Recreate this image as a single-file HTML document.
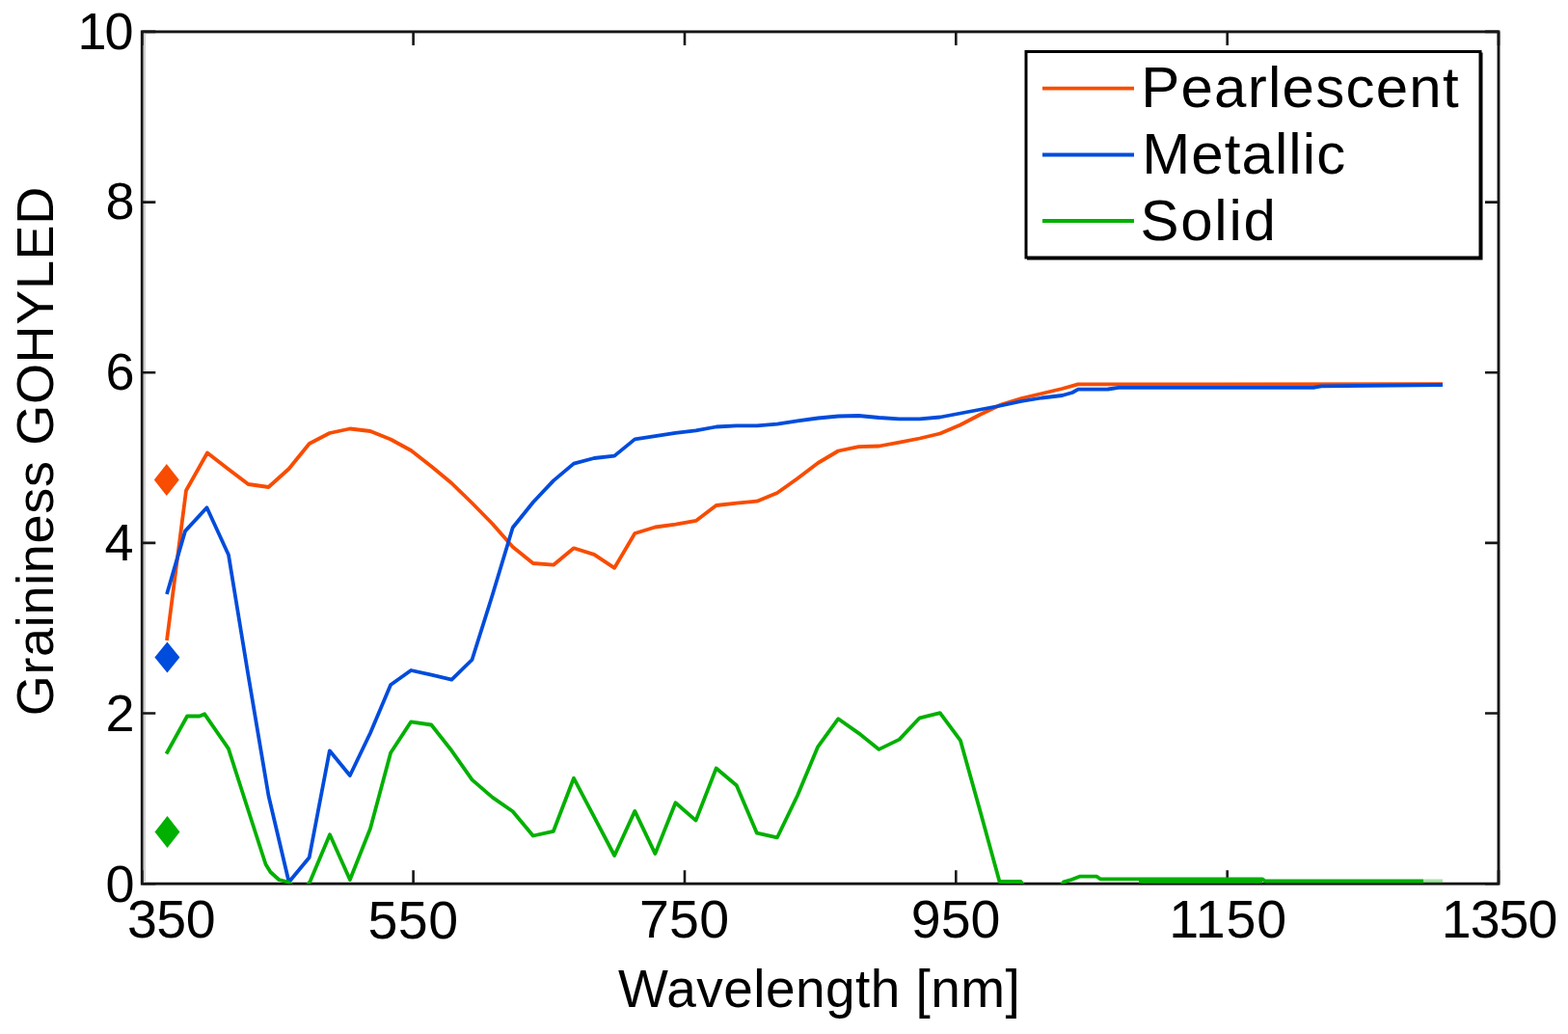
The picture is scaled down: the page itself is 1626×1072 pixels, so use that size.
<!DOCTYPE html>
<html><head><meta charset="utf-8"><title>Graininess vs Wavelength</title>
<style>
html,body{margin:0;padding:0;background:#fff;width:1626px;height:1072px;overflow:hidden;}
svg{display:block;filter:blur(0.45px);}
</style></head>
<body>
<svg width="1626" height="1072" viewBox="0 0 1626 1072"><rect x="0" y="0" width="1626" height="1072" fill="#ffffff"/>
<defs><clipPath id="ax"><rect x="147.3" y="32.9" width="1406.7" height="883.3000000000001"/></clipPath></defs>
<rect x="147.3" y="32.9" width="1406.7" height="883.3000000000001" fill="none" stroke="#161616" stroke-width="2.9"/>
<line x1="149.9" y1="34.4" x2="149.9" y2="914.7" stroke="#d2d2d2" stroke-width="2.4"/>
<path d="M147.3,916.2V902.2M147.3,32.9V46.9M428.6,916.2V902.2M428.6,32.9V46.9M710.0,916.2V902.2M710.0,32.9V46.9M991.3,916.2V902.2M991.3,32.9V46.9M1272.7,916.2V902.2M1272.7,32.9V46.9M1554.0,916.2V902.2M1554.0,32.9V46.9M147.3,916.2H161.3M1554.0,916.2H1540.0M147.3,739.5H161.3M1554.0,739.5H1540.0M147.3,562.9H161.3M1554.0,562.9H1540.0M147.3,386.2H161.3M1554.0,386.2H1540.0M147.3,209.6H161.3M1554.0,209.6H1540.0M147.3,32.9H161.3M1554.0,32.9H1540.0" stroke="#161616" stroke-width="2.6" fill="none"/>
<polyline clip-path="url(#ax)" points="173.0,664.0 193.0,508.5 215.0,469.5 236.3,486.0 257.4,502.0 278.5,505.0 299.6,486.0 320.7,460.0 341.8,449.0 362.9,444.5 384.0,447.0 405.1,455.5 426.2,467.0 447.3,483.5 468.4,501.0 489.5,521.5 510.6,543.0 531.7,567.0 552.8,584.0 573.9,585.7 595.0,568.3 616.1,574.9 637.2,588.8 658.3,553.0 679.4,546.5 700.5,543.7 721.6,539.9 742.7,524.0 763.8,521.6 784.9,519.7 806.0,511.0 827.1,496.0 848.2,480.0 869.3,467.5 890.4,463.1 911.5,462.5 932.6,458.6 953.7,454.5 974.8,449.5 995.9,440.5 1017.0,429.5 1038.1,419.5 1059.2,413.0 1080.3,408.0 1101.4,403.0 1118.0,398.4 1496.0,398.2" fill="none" stroke="#f84c00" stroke-width="3.8" stroke-linejoin="round" stroke-linecap="butt"/>
<polyline clip-path="url(#ax)" points="173.0,616.0 192.0,550.6 214.5,526.3 237.0,575.2 257.4,700.0 278.5,825.0 299.6,914.5 320.7,889.0 341.8,778.3 362.9,804.0 384.0,760.0 405.1,710.0 426.2,695.0 447.3,699.6 468.4,704.6 489.5,684.0 510.6,617.0 531.7,547.0 552.8,520.7 573.9,498.4 595.0,480.6 616.1,475.0 637.2,472.6 658.3,455.4 679.4,452.2 700.5,448.9 721.6,446.3 742.7,442.5 763.8,441.4 784.9,441.4 806.0,439.6 827.1,436.4 848.2,433.5 869.3,431.5 890.4,431.0 911.5,433.0 932.6,434.4 953.7,434.4 974.8,432.5 995.9,428.5 1017.0,424.5 1038.1,420.5 1059.2,416.0 1080.3,412.5 1101.4,410.0 1112.0,407.0 1118.0,403.7 1149.0,403.5 1160.0,401.8 1362.0,401.8 1370.0,400.4 1496.0,399.0" fill="none" stroke="#004cdc" stroke-width="3.8" stroke-linejoin="round" stroke-linecap="butt"/>
<polyline clip-path="url(#ax)" points="172.5,781.5 194.1,742.5 206.9,742.5 212.2,740.3 236.9,776.2 257.4,840.0 275.5,896.0 280.4,904.0 289.2,912.0 299.0,914.5 304.0,919.0 318.0,919.0 321.7,913.5 342.0,865.2 362.9,912.0 384.0,859.0 405.1,780.5 426.2,748.3 447.3,751.5 468.4,778.3 489.5,808.4 510.6,826.6 531.7,841.3 552.8,866.5 573.9,861.8 595.0,806.8 616.1,846.9 637.2,887.0 658.3,840.9 679.4,885.1 700.5,832.3 721.6,850.6 742.7,796.5 763.8,814.2 784.9,863.7 806.0,868.3 827.1,824.5 848.2,774.1 869.3,745.2 890.4,760.1 911.5,776.9 932.6,766.6 953.7,744.3 974.8,739.2 995.9,767.6 1017.0,843.1 1036.5,914.0 1058.6,914.0 1062.0,919.0" fill="none" stroke="#00b000" stroke-width="3.8" stroke-linejoin="round" stroke-linecap="butt"/>
<polyline clip-path="url(#ax)" points="1100.0,919.0 1103.0,914.3 1111.0,912.0 1119.5,908.7 1137.4,908.7 1141.0,911.3 1309.0,911.3 1312.0,913.5 1476.0,913.5" fill="none" stroke="#00b000" stroke-width="3.8" stroke-linejoin="round" stroke-linecap="butt"/>
<polyline clip-path="url(#ax)" points="1181.0,913.8 1309.0,913.8" fill="none" stroke="#00b000" stroke-width="3.8" stroke-linejoin="round" stroke-linecap="butt"/>
<polyline clip-path="url(#ax)" points="1476.0,913.5 1496.0,913.5" fill="none" stroke="#00b000" stroke-width="3.8" stroke-linejoin="round" stroke-linecap="butt" stroke-opacity="0.35"/>
<polygon points="172.8,481.1 185.8,497.6 172.8,514.1 159.8,497.6" fill="#f84c00"/>
<polygon points="173.4,665.5 186.4,681.5 173.4,697.5 160.4,681.5" fill="#004cdc"/>
<polygon points="173.5,845.9 186.5,862.4 173.5,878.9 160.5,862.4" fill="#00b000"/>
<rect x="1064" y="53.5" width="471" height="213.5" fill="#ffffff" stroke="#000" stroke-width="3"/>
<path d="M1065,268.5H1536.5V54.5" stroke="#000" stroke-width="2" fill="none"/>
<line x1="1081" y1="91.7" x2="1176" y2="91.7" stroke="#f84c00" stroke-width="3.8"/>
<line x1="1081" y1="160.5" x2="1176" y2="160.5" stroke="#004cdc" stroke-width="3.8"/>
<line x1="1081" y1="229.0" x2="1176" y2="229.0" stroke="#00b000" stroke-width="3.8"/>
<g font-family="'Liberation Sans', Arial, Helvetica, sans-serif" fill="#000"><text id="xt350" x="132.10" y="972.15" font-size="55.5" textLength="91.40" lengthAdjust="spacing">350</text><text id="xt550" x="381.60" y="972.75" font-size="55.5" textLength="93.40" lengthAdjust="spacing">550</text><text id="xt750" x="663.00" y="971.90" font-size="55.5" textLength="93.00" lengthAdjust="spacing">750</text><text id="xt950" x="944.80" y="971.90" font-size="55.5" textLength="92.60" lengthAdjust="spacing">950</text><text id="xt1150" x="1212.20" y="971.85" font-size="55.5" textLength="122.00" lengthAdjust="spacing">1150</text><text id="xt1350" x="1494.80" y="972.40" font-size="55.5" textLength="120.60" lengthAdjust="spacing">1350</text><text id="yt0" x="109.40" y="934.60" font-size="54">0</text><text id="yt2" x="109.40" y="758.10" font-size="54">2</text><text id="yt4" x="108.40" y="581.20" font-size="54">4</text><text id="yt6" x="109.60" y="404.25" font-size="54">6</text><text id="yt8" x="109.45" y="227.35" font-size="54">8</text><text id="yt10" x="80.40" y="50.95" font-size="54" textLength="58.20" lengthAdjust="spacing">10</text><text id="xlabel" x="641.00" y="1043.90" font-size="55" textLength="416.80" lengthAdjust="spacing">Wavelength [nm]</text><text id="ylabel" transform="translate(55.15,742.20) rotate(-90)" x="0" y="0" font-size="54" textLength="548.50" lengthAdjust="spacing">Graininess GOHYLED</text><text id="leg1" x="1183.20" y="110.60" font-size="60" textLength="329.40" lengthAdjust="spacing">Pearlescent</text><text id="leg2" x="1184.20" y="179.95" font-size="60" textLength="211.00" lengthAdjust="spacing">Metallic</text><text id="leg3" x="1182.60" y="248.95" font-size="60" textLength="140.20" lengthAdjust="spacing">Solid</text></g></svg>
</body></html>
